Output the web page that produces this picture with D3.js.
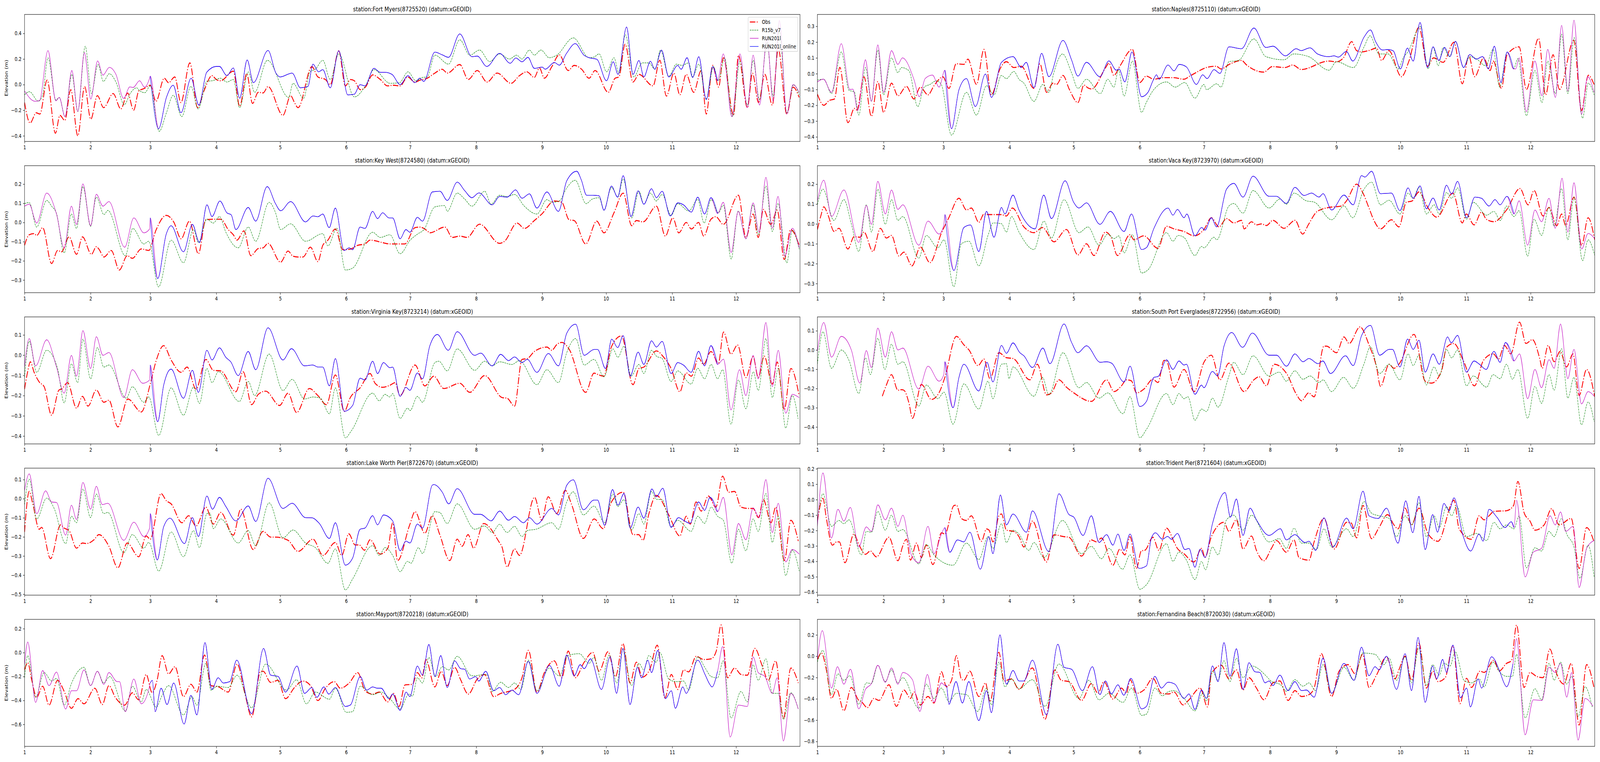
<!DOCTYPE html>
<html>
<head>
<meta charset="utf-8">
<script src="https://cdn.jsdelivr.net/npm/d3@7"></script>
<style>
html, body { margin: 0; padding: 0; background: #fff; overflow: hidden; }
svg { display: block; width: 100vw; height: 100vh; }
text { font-family: "DejaVu Sans", sans-serif; fill: #000; }
</style>
</head>
<body>
<svg id="chart" viewBox="0 0 5150 1950" preserveAspectRatio="none"></svg>
<script>
// day of year (0 = Jan 1) and water level (m)
// RUN201l (magenta) sits under RUN201l_online (blue) from Mar 1 to Nov 22,
// so only its Jan-Feb and late Nov-Dec parts are kept separately.

const stationTitles = [
    'station:Fort Myers(8725520) (datum:xGEOID)',
    'station:Naples(8725110) (datum:xGEOID)',
    'station:Key West(8724580) (datum:xGEOID)',
    'station:Vaca Key(8723970) (datum:xGEOID)',
    'station:Virginia Key(8723214) (datum:xGEOID)',
    'station:South Port Everglades(8722956) (datum:xGEOID)',
    'station:Lake Worth Pier(8722670) (datum:xGEOID)',
    'station:Trident Pier(8721604) (datum:xGEOID)',
    'station:Mayport(8720218) (datum:xGEOID)',
    'station:Fernandina Beach(8720030) (datum:xGEOID)'
];
const seriesNames = ['Obs', 'R15b_v7', 'RUN201l', 'RUN201l_online'];
const monthStarts = [0, 31, 59, 90, 120, 151, 181, 212, 243, 273, 304, 334];
const monthLabels = ['1', '2', '3', '4', '5', '6', '7', '8', '9', '10', '11', '12'];
const yLimits = [
    [-0.444, 0.548], [-0.429, 0.375], [-0.366, 0.296], [-0.346, 0.293], [-0.439, 0.189],
    [-0.488, 0.172], [-0.505, 0.16], [-0.619, 0.204], [-0.784, 0.278], [-0.846, 0.346]
];
const yTickSteps = [0.2, 0.1, 0.1, 0.1, 0.1, 0.1, 0.1, 0.1, 0.2, 0.2];

// ---- Fort Myers
const fortMyersObs = [[0,-.14],[2.6,-.30],[5.5,-.22],[7.2,-.23],[10.6,.035],[14.5,-.38],[16.6,-.24],[18.9,-.28],[21.7,-.04],[25,-.40],[28.2,-.015],[31.1,-.27],[34.2,-.086],[37.1,-.18],[41.6,-.07],[45.2,-.19],[48.4,-.066],[51.2,-.2],[53.6,-.05],[56.2,-.03],[59,-.005],[61.7,-.13],[65.6,.05],[67.6,.015],[70.5,.06],[73.4,-.14],[77.6,.17],[81.2,-.18],[84.2,-.05],[88,.07],[90,.04],[92,.03],[98,.105],[101,-.17],[104.3,.086],[107,-.147],[109.7,-.06],[112,-.065],[114.3,-.015],[121.3,-.24],[124.9,-.086],[126.7,-.14],[128.4,-.18],[134.9,.14],[137.7,.06],[141.2,.04],[143.5,0],[147.5,.264],[150.6,-.01],[153,.04],[154.8,.03],[157.6,-.04],[160,-.02],[163.4,.076],[167,.04],[170.4,-.01],[173,-.005],[176.3,-.01],[179.8,.06],[183.3,.02],[185.6,.035],[189,.05],[192.6,.09],[196,.12],[198.5,.09],[204.3,.157],[208.3,.04],[212.5,.11],[217.1,.02],[221.8,.09],[228.4,.01],[232.3,.07],[235.8,.10],[239.3,.056],[241.7,.13],[244,.05],[247.5,.14],[251,.233],[255.2,.11],[258,.15],[261.5,.12],[265,.05],[267.8,.11],[274,-.06],[277.2,.05],[279,.06],[281.9,.315],[285.6,.02],[288.4,.08],[295,-.01],[298.2,.19],[301.3,-.09],[304.8,.09],[307.6,-.08],[310.6,.08],[314.1,-.06],[317.6,.11],[320,-.23],[323,.15],[325.8,-.02],[328,.21],[332.8,-.24],[335.1,.23],[339.3,-.18],[341.7,.09],[344.5,-.14],[347.5,.08],[351,-.16],[353.8,.28],[357.8,-.23],[360.8,-.02],[363.6,-.10]];
const fortMyersR15b = [[0,-.08],[2.3,-.055],[6.5,-.13],[8.5,-.08],[11,.21],[14.7,-.12],[16.3,-.10],[19,-.25],[22.2,.08],[25,-.21],[28.5,.30],[31.4,-.07],[34.5,.157],[37,.025],[39.8,.085],[42.9,.02],[46.8,-.157],[49.7,-.066],[52.6,-.025],[54.2,-.05],[56.5,-.063],[59,-.01],[63.2,-.365],[66.6,-.22],[69.8,-.083],[73.8,-.25],[78.1,-.013],[81.5,-.19],[85.7,.027],[88,.03],[92,.05],[95,.02],[98,.04],[101,-.18],[105,.10],[108,-.06],[114,.19],[124,-.10],[126,.01],[131,-.107],[134,.10],[136.5,.12],[140,.19],[143.5,.04],[147.5,.24],[154.8,-.096],[160,-.01],[164,.117],[171.6,.01],[176,.015],[180,.10],[183.7,.03],[186.7,.056],[189,.06],[192.6,.23],[199,.16],[204.3,.35],[209,.23],[213.6,.27],[218.3,.18],[223,.24],[227.6,.20],[231,.23],[233.5,.20],[237,.27],[239.3,.23],[242.4,.27],[246.3,.21],[249.8,.23],[257.6,.365],[265,.21],[267.3,.215],[269.7,.24],[273.2,.10],[276.7,.21],[279,.09],[282,.39],[286,.06],[290,.17],[293,.17],[296,.12],[298.5,.27],[302.4,.066],[306,.16],[308.6,.15],[311.8,.17],[313.6,.06],[316.5,.16],[320,-.11],[323.4,.14],[325.7,.03],[328.6,.21],[332.3,-.25],[335.8,.18],[339.3,-.16],[342,.19],[345,-.12],[348.5,.33],[351.4,-.09],[354.3,.42],[357.8,-.22],[361,0],[363.6,-.08]];
const fortMyersRun = [[0,-.05],[4.9,-.13],[7,-.125],[11,.265],[14.7,-.127],[16.3,-.10],[19,-.25],[22.2,.11],[25,-.21],[28.1,.25],[31.1,-.113],[34.3,.185],[36.8,.074],[39.8,.135],[42.9,.08],[46.5,-.108],[49.4,-.018],[51,-.022],[54,.03],[56.3,-.02],[58.7,.05],
    [328,.24],[332,-.25],[335.8,.24],[339.3,-.18],[342,.23],[345,-.16],[348.5,.36],[351.4,-.13],[354.3,.50],[357.8,-.23],[360.7,0],[363.6,-.06]];
const fortMyersOnline = [[59,.066],[62.9,-.345],[66.6,-.10],[69.8,-.005],[73.4,-.22],[78.2,.05],[81.8,-.16],[85.5,.096],[90,.142],[91.5,.142],[95,.07],[98,.13],[101,-.107],[104.5,.193],[107.4,.015],[114.3,.267],[118,.09],[120,.06],[125.6,.09],[129.5,-.025],[133,-.015],[135.4,.16],[138,.10],[140,.117],[143.5,-.025],[147.5,.264],[151.7,-.08],[154.8,-.075],[157.5,0],[159.8,-.01],[164,.127],[167,.096],[169.2,.096],[172.5,.08],[176.3,0],[180,.07],[183.2,.015],[185.5,.05],[187.4,.025],[192.6,.254],[196,.233],[199,.213],[204.3,.396],[210,.218],[212.5,.223],[217,.142],[223,.244],[228,.167],[230.6,.208],[233.5,.178],[236.3,.213],[239.3,.127],[243,.137],[244.4,.12],[248.7,.173],[251,.152],[254.4,.244],[258.5,.32],[262.6,.23],[265,.21],[268.6,.198],[273.2,.03],[276.3,.178],[278.6,.08],[282.6,.45],[285.6,.08],[288.4,.188],[290.7,.06],[293.8,.183],[295.8,.12],[299,.27],[302.4,.06],[306.6,.15],[308.2,.12],[311,.21],[313.6,.056],[316.5,.218],[320,-.117],[323,.14],[325.3,.03]];

// ---- Naples
const naplesObs = [[0,-.13],[3,-.20],[5.5,-.17],[8,-.16],[10.5,.04],[14.3,-.31],[17.3,-.22],[18.5,-.23],[21.8,-.02],[25.3,-.27],[28.3,-.05],[31,-.245],[34.7,-.06],[37.7,-.14],[41.7,-.08],[45.2,-.16],[48.2,-.085],[51.8,-.134],[54.6,-.076],[58.8,-.02],[61.6,-.093],[65,.063],[68.6,.059],[70.5,.092],[74.5,-.068],[78,.154],[81.5,-.134],[85.5,.03],[88.5,.076],[92,.039],[95.5,.047],[101.4,-.093],[104.2,.063],[107.3,-.118],[110.3,-.06],[112,-.068],[115,-.011],[118,-.10],[122,-.183],[124.8,-.072],[126.7,-.09],[128.4,-.097],[135,.039],[136.5,.067],[138.8,-.011],[141.6,.047],[147.5,.154],[151,-.056],[154,-.015],[157.5,-.035],[162,-.025],[167,-.025],[171.5,-.035],[175,-.01],[183.4,.043],[186.8,.047],[189,.03],[193,.06],[198.6,.084],[201,.055],[209,.01],[213,.045],[219,.039],[222.5,.055],[226.7,.026],[232,.047],[234.5,.063],[239.6,.08],[243,.075],[246.3,.10],[250.2,.203],[252.5,.146],[255,.138],[258.3,.147],[261.8,.162],[264.2,.084],[267.6,.146],[273.5,-.019],[277,.08],[281.7,.294],[285.7,.047],[288.5,.10],[293,.072],[298.1,.199],[302,-.064],[305,.113],[307.8,-.019],[312,.10],[315,.02],[316.5,.08],[320.3,-.093],[323,.121],[328.6,.17],[332,-.10],[337.7,.224],[341,-.134],[344.5,.12],[347.5,-.10],[354.2,.211],[357.8,-.233],[361,-.01],[363.7,-.068]];
const naplesR15b = [[0,-.04],[3,-.035],[6.6,-.126],[11.2,.137],[14.8,-.105],[17.3,-.115],[19.4,-.262],[22.5,.039],[25.3,-.175],[28.3,.15],[31,-.134],[34.7,.10],[37.7,.006],[39.3,.039],[42.8,.02],[47,-.208],[50,-.085],[52.7,-.068],[55.7,-.045],[58,-.068],[62.8,-.389],[69.8,-.118],[74.5,-.262],[79.2,-.076],[82.7,-.134],[86.2,-.011],[88.5,-.031],[92,.014],[94.4,-.035],[96.7,-.06],[101.4,-.175],[105.6,-.068],[108.4,-.118],[110.7,.006],[114.8,.125],[119,.006],[122,-.093],[126,-.035],[132.5,-.126],[136,-.035],[138.8,-.085],[141,.022],[143.6,-.142],[147.5,.08],[151.8,-.245],[154,-.183],[157.5,-.101],[163.5,-.052],[167.5,-.085],[172,-.056],[176.8,-.155],[181,-.068],[182.2,-.101],[187,-.064],[189,-.085],[192.7,.076],[197.2,.084],[204.4,.22],[210,.108],[218.5,.088],[223,.125],[230,.108],[239.6,.022],[243,.076],[251,.039],[256,.17],[258.8,.24],[263,.125],[267.3,.125],[272,.03],[274.3,.10],[276.6,.14],[282.4,.298],[286,.03],[288.3,.17],[290.7,.05],[293,.166],[296,.108],[298.8,.203],[302.6,.039],[305.5,.108],[308.5,.095],[313,.05],[316.4,.154],[319.5,-.085],[323,.137],[326,.03],[328,.095],[332,-.266],[336,.02],[339.3,-.183],[342,.08],[345.6,-.126],[348.5,.25],[351.4,-.126],[354.4,.228],[358.3,-.282],[361,-.06],[363.7,-.134]];
const naplesRun = [[0,-.052],[2.8,-.034],[6.6,-.118],[11.2,.19],[15.2,-.10],[16.6,-.098],[18.9,-.233],[22.5,.088],[25.3,-.175],[28.3,.182],[31,-.118],[34.7,.146],[37.7,.059],[39.8,.10],[45.3,-.04],[47.7,-.146],[50.5,-.03],[53.9,-.009],[57,-.085],
    [327,.03],[328.6,.10],[332,-.24],[336,.08],[339.3,-.14],[342,.154],[345.6,-.15],[348.5,.306],[351.4,-.11],[354.3,.339],[357.8,-.257],[360.7,-.019],[363.7,-.118]];
const naplesOnline = [[59.7,.022],[62.8,-.348],[66.3,-.101],[69.8,-.031],[74,-.208],[78.7,-.002],[81.5,-.15],[86.2,.072],[91.6,.108],[95.5,.039],[97.8,.072],[101.4,-.089],[105,.129],[108.4,-.019],[115,.211],[119,.088],[122,-.015],[126,.072],[132.3,-.019],[136.5,.081],[140,.022],[141.2,.03],[144,-.052],[147.3,.137],[151.8,-.146],[154.8,-.118],[157.2,-.043],[158.8,-.007],[160,-.035],[164.2,.055],[167,.018],[169.4,.059],[172.8,.043],[177.5,-.068],[180.4,-.007],[182.5,-.031],[185.7,.026],[188.5,.002],[192.7,.17],[198.6,.158],[204.4,.289],[210,.166],[213.3,.174],[219.2,.113],[224.2,.158],[226.5,.146],[230.7,.164],[234.2,.125],[239.6,.108],[242,.113],[244,.105],[247.7,.141],[250.7,.08],[256,.232],[259,.277],[261.4,.203],[264.6,.15],[267.3,.153],[269.6,.145],[273,.03],[276.3,.162],[279,.08],[282.2,.324],[285.7,.039],[288.3,.17],[291,.084],[293.7,.166],[296.2,.108],[298.8,.205],[302.6,.039],[305.5,.121],[308.5,.092],[311.5,.108],[314.2,.03],[317,.174],[320.1,-.056],[323,.137],[326,.03]];

// ---- Key West
const keyWestObs = [[0,-.119],[2.2,-.064],[4.5,-.058],[5.7,-.068],[8.5,-.027],[12.7,-.214],[15.5,-.146],[17.4,-.153],[20.9,-.075],[24.4,-.166],[27.2,-.075],[31.4,-.166],[33.7,-.126],[34.9,-.139],[37.3,-.18],[40.7,-.146],[44.5,-.248],[48.2,-.173],[50.6,-.187],[54.8,-.138],[58.3,-.146],[61.7,-.04],[66.5,.037],[70,.003],[73.5,-.085],[77.4,.007],[81.6,-.163],[85.1,.014],[88.6,.017],[92.2,.017],[95.6,-.037],[98,-.064],[99.7,-.092],[103,-.044],[106.2,-.173],[109.7,-.136],[112,-.132],[114.3,-.109],[120.2,-.207],[123.7,-.149],[126,-.176],[128.4,-.18],[130.7,-.18],[134.2,-.129],[137.7,-.204],[140,-.119],[142.4,-.092],[145.9,-.034],[149.4,-.142],[152.9,-.139],[156.4,-.119],[159.8,-.112],[162.2,-.092],[164.5,-.095],[168,-.105],[171.5,-.112],[175.1,-.112],[178.5,-.112],[183.3,-.027],[185.6,-.024],[189.1,-.044],[190.2,-.054],[197.3,-.024],[200.8,-.078],[204.3,-.071],[207.7,-.078],[213.6,-.009],[223,-.109],[225.3,-.098],[231.2,-.003],[234.6,-.031],[239.3,.01],[242.8,.044],[248.7,.112],[252.2,.105],[255.6,.014],[258,.01],[263.4,-.112],[268.6,.007],[272,-.054],[276.7,.051],[281,.153],[285,-.017],[287.2,.01],[290.3,.003],[296.6,.085],[300.8,-.071],[304.3,.024],[307.1,-.054],[310.6,0],[313,-.034],[316.4,0],[318.8,-.071],[322.2,.017],[324.5,.03],[328,-.01],[335.1,.142],[338.6,-.078],[342,.044],[344.4,-.078],[346.8,.068],[350.3,-.01],[353.3,.064],[356.6,-.193],[359.6,-.037],[363.6,-.119]];
const keyWestR15b = [[0,.098],[2.2,.104],[5.7,-.024],[10.4,.115],[12.7,.085],[15,.047],[18.6,-.159],[22,.044],[24.4,-.031],[27.4,.187],[31,-.02],[33.7,.132],[37.3,.041],[39.1,.063],[47.3,-.173],[50.8,-.031],[56,-.112],[58.3,-.098],[62.9,-.336],[68.8,-.092],[74.6,-.21],[79.3,-.037],[81.6,-.105],[85.6,.017],[88.6,-.003],[91.5,.031],[94.5,-.051],[100.3,-.132],[105,-.024],[108.5,-.098],[114.8,.105],[117.8,.051],[120.2,-.037],[124.9,-.007],[131.9,-.098],[140,-.058],[142.4,-.122],[146.6,-.03],[150.6,-.248],[154,-.238],[163.4,-.051],[167,-.078],[171.5,-.064],[176.3,-.163],[181,-.092],[184.4,-.061],[187.5,-.037],[192.6,.081],[197.2,.088],[198.4,.058],[203.1,.153],[206.6,.122],[210,.085],[216,.163],[219,.095],[223,.142],[226.5,.135],[230,.146],[234.6,.085],[240.5,.044],[245.2,.119],[247.5,.105],[251,.112],[254.5,.18],[258.5,.22],[263.6,.098],[266.5,.122],[269.7,.129],[272,.064],[275.5,.183],[278.5,.132],[281,.227],[285,.024],[288.4,.163],[290.7,.095],[293.8,.153],[296.5,.112],[299.3,.146],[303.5,.037],[306.6,.098],[311.8,.06],[316,.12],[319,-.003],[322.3,.119],[325.7,.05],[328,.09],[331.7,-.19],[335,.06],[338.6,-.085],[342,.092],[344.4,-.064],[348,.19],[351,-.047],[353.7,.10],[357.8,-.21],[360.4,-.04],[363.6,-.139]];
const keyWestRun = [[0,.085],[2.2,.095],[5.7,-.003],[10.4,.153],[15,.044],[18.6,-.132],[22,.085],[24.4,-.01],[27.4,.201],[31,-.017],[33.7,.147],[36.8,.085],[39.6,.109],[47,-.129],[51.3,.024],[56,-.054],[58.7,-.034],
    [328,.105],[331.7,-.156],[335,.058],[338.6,-.085],[342,.102],[344.8,-.051],[348,.235],[351,-.03],[353.7,.136],[356.8,-.176],[360.4,-.03],[363.6,-.132]];
const keyWestOnline = [[59,.024],[62.5,-.292],[66.5,-.061],[68.8,-.017],[74.6,-.153],[78.8,-.01],[82.1,-.105],[85.6,.092],[88,.031],[91.7,.112],[95,.05],[97,.04],[99.2,-.037],[105,.078],[108.5,.007],[113.9,.187],[117.8,.098],[120.2,.061],[124.9,.109],[131.9,.003],[135.4,.034],[137.7,.03],[140,.044],[143,-.027],[145.9,.075],[150,-.146],[152.4,-.132],[154,-.142],[157.5,-.024],[159.8,-.031],[163.4,.058],[165.7,.02],[168.1,.051],[171,.024],[172.8,.024],[176.3,-.085],[179,-.037],[180.9,-.051],[184.4,.027],[186.8,.007],[191.4,.159],[195,.163],[198.4,.115],[203.1,.21],[206.6,.166],[210,.129],[213.3,.154],[219.5,.092],[223,.136],[226.5,.132],[230.5,.17],[233.5,.126],[237,.149],[240.5,.075],[245.2,.159],[250.6,.058],[254.5,.217],[259.2,.267],[261.4,.22],[263.8,.142],[266.8,.142],[269.7,.139],[272,.064],[275.5,.19],[278.4,.132],[281,.244],[284.7,.031],[288,.165],[290.7,.095],[294.3,.176],[296.6,.129],[299.3,.163],[303.1,.034],[306.6,.102],[309.3,.092],[313,.054],[316,.132],[319.2,.044],[322.2,.129],[325.3,.047]];

// ---- Vaca Key
const vacaKeyObs = [[0,-.028],[1.6,.04],[3,.086],[5,.044],[7.8,-.038],[10.1,-.022],[14.3,-.126],[17.2,-.064],[19.9,-.067],[21.8,-.041],[26,-.139],[29.5,-.022],[32.3,-.071],[34.7,-.058],[38.2,-.162],[40.5,-.142],[44.3,-.211],[48.2,-.116],[52.7,-.195],[58,-.048],[61.5,.03],[66.3,.129],[69.8,.07],[72.1,.08],[75.6,.008],[78,.05],[79.9,.047],[86,.047],[88.5,.04],[91.3,.08],[96.7,-.015],[101.4,-.044],[105.4,-.018],[110.8,-.09],[116.6,-.028],[122,-.156],[126,-.10],[129.5,-.159],[134.9,-.041],[137.5,-.067],[140.5,-.159],[146.4,-.054],[148.2,-.08],[152.8,-.06],[159.5,-.123],[163.5,-.012],[167,-.025],[171.7,-.038],[176.4,-.06],[181,-.028],[184.5,.031],[188,-.015],[191.6,.027],[195,.005],[198.6,.018],[199.8,-.025],[203.3,.011],[205.6,-.005],[208,0],[210.3,-.008],[213.3,.018],[218.5,-.022],[223.7,.018],[227.2,-.051],[230,-.002],[233.7,.06],[236,.073],[239.6,.083],[245.4,.09],[247.7,.115],[252.5,.20],[255.5,.155],[258.3,.08],[260.6,.018],[263.7,-.025],[268.8,.021],[272.3,-.015],[275.8,.109],[278.4,.115],[281.7,.161],[286,.08],[290,.034],[297.6,.155],[302,.005],[303.9,.05],[307.5,-.005],[311,.06],[313.2,.024],[316.8,.011],[322.7,.07],[329,.178],[332.8,.096],[335.6,.168],[339.8,.04],[342.6,.083],[346.2,-.009],[348.5,.05],[350.4,-.008],[354.3,.135],[357.9,-.107],[360.9,.031],[364,-.08]];
const vacaKeyR15b = [[0,.096],[2.6,.175],[7.7,.018],[12.4,.122],[15.9,0],[19.4,-.139],[22.9,.096],[25.3,-.041],[28.3,.175],[31.8,-.002],[34.7,.122],[37.7,.018],[40,.037],[47.5,-.172],[51,-.058],[56.4,-.12],[59.3,-.08],[63.9,-.316],[67.4,-.10],[71,-.087],[75.6,-.211],[80,-.054],[82.3,.005],[86.2,.001],[88.5,-.041],[90.9,.037],[94.4,-.041],[101.4,-.129],[106.1,.014],[109.6,-.071],[115.5,.122],[122.5,-.044],[126.7,-.015],[131.9,-.107],[136,-.051],[138.9,-.074],[141.2,-.06],[143.6,-.146],[147.5,-.054],[151.8,-.247],[154.8,-.231],[163.5,-.044],[166.5,-.087],[168.9,-.058],[171.7,-.068],[176.8,-.159],[179.9,-.113],[181,-.12],[185.7,-.067],[187,-.08],[192.7,.09],[195,.103],[199.3,.054],[204,.168],[211.5,.08],[216.6,.125],[219.6,.099],[223.2,.155],[229,.116],[232.6,.11],[240.8,.021],[246.6,.09],[250.7,.031],[256,.175],[259.5,.21],[263.7,.096],[267.7,.119],[272.8,.05],[276.6,.155],[278.9,.129],[281.7,.184],[285.2,.05],[288.8,.096],[291.2,.05],[294.6,.158],[297,.129],[299.8,.181],[304,.024],[307.1,.109],[313.4,.044],[316.8,.063],[319.8,.017],[322.7,.09],[326.2,.037],[328.6,.067],[332.6,-.162],[335.6,.024],[339.1,-.058],[342.6,.083],[345,-.012],[348.5,.178],[351.4,-.08],[354.3,.135],[358.3,-.185],[360.9,-.08],[364,-.159]];
const vacaKeyRun = [[0,.116],[3,.22],[6.6,.037],[12.4,.171],[19.4,-.093],[22.9,.093],[25.3,-.002],[28.3,.214],[31.8,.05],[34.7,.171],[37.7,.073],[40,.096],[47.5,-.107],[51.8,.014],[57,-.051],[59.2,-.005],
    [328.6,.116],[332.6,-.107],[336,.07],[339.1,.011],[342.6,.129],[345.5,-.022],[348.7,.23],[351.4,-.041],[354.3,.207],[357.9,-.126],[360.9,-.048],[364,-.074]];
const vacaKeyOnline = [[59.7,.047],[63.9,-.234],[68.6,-.018],[71.7,-.005],[75.6,-.139],[79.2,.063],[82.7,-.067],[86.2,.083],[87.8,.05],[91.6,.145],[94.4,.07],[101.9,-.025],[106,.145],[109.6,.027],[116,.217],[120,.109],[122.5,.08],[126,.106],[132.3,-.002],[137.2,.063],[143.6,-.038],[147.1,.05],[151.8,-.129],[154.1,-.119],[157.6,-.022],[164.2,.08],[166.5,.044],[168.6,.073],[171.7,.031],[173,.05],[176.8,-.06],[179.9,-.018],[181.5,-.031],[184.5,.031],[186.9,-.015],[191.6,.175],[195,.204],[199.3,.135],[204,.24],[211.5,.139],[215,.139],[219.6,.103],[223.6,.184],[227.9,.143],[231.4,.155],[234.9,.135],[236.8,.152],[240.8,.07],[246.6,.145],[250.9,.096],[254.8,.243],[256.4,.236],[259.5,.265],[263.7,.152],[268.8,.155],[272.8,.067],[276.6,.181],[279,.129],[282.2,.191],[285.2,.076],[288.3,.13],[291.2,.07],[294.6,.195],[297,.15],[299.8,.214],[304,.031],[307.9,.135],[311,.129],[314.5,.09],[317.3,.122],[319.7,.096],[322.9,.139],[326.2,.05]];

// ---- Virginia Key
const virginiaKeyObs = [[0,-.168],[1.5,-.08],[2.7,-.033],[4.5,-.085],[6.9,-.133],[9.2,-.156],[12.7,-.297],[16.2,-.172],[17.4,-.168],[20.2,-.136],[24.4,-.262],[27.2,-.204],[29.8,-.252],[33.7,-.172],[37.2,-.233],[39.6,-.223],[43.8,-.355],[48.5,-.217],[54.8,-.281],[59,-.143],[61.8,-.027],[65.3,.047],[68.8,-.024],[73.5,-.085],[76.3,-.059],[80.5,-.168],[85.1,-.021],[88.6,-.075],[92.1,-.078],[99.2,-.181],[102.6,-.082],[106.6,-.245],[109.7,-.194],[113.2,-.178],[119.7,-.249],[123.7,-.188],[127.7,-.284],[133.7,-.165],[137.7,-.2],[141.7,-.245],[145.9,-.098],[150.1,-.278],[152.9,-.21],[157.5,-.162],[162.2,-.091],[164.6,-.14],[168,-.159],[171.5,-.149],[174,-.136],[176.2,-.2],[183.3,-.049],[187.9,-.152],[192.1,-.104],[196.8,-.165],[204.3,-.139],[209,-.184],[216,-.101],[224.2,-.21],[226.5,-.213],[230,-.252],[233.5,-.021],[236,-.017],[239.3,.018],[245.2,.04],[247.5,.024],[249.9,.053],[252.2,.063],[255.6,.03],[263.4,-.184],[267.3,-.089],[269.6,-.098],[271.8,-.104],[275.6,.044],[280.2,.095],[285.6,-.146],[288.4,-.066],[290.7,-.059],[296.6,.021],[300,-.01],[303.5,-.066],[307.6,-.181],[310.6,-.088],[313,-.104],[316.4,-.014],[318.7,-.046],[322.2,.018],[325.7,-.04],[328.1,.114],[331.6,.005],[334.7,.05],[338.6,-.111],[342,-.008],[344.4,-.111],[347.2,-.005],[351,-.143],[353.3,-.034],[356.6,-.271],[359.7,-.066],[363.6,-.20]];
const virginiaKeyR15b = [[0,-.111],[2.2,.069],[5.7,-.085],[10.4,.024],[15.5,-.066],[18.6,-.236],[22,-.043],[24.9,-.136],[27.4,.079],[31,-.117],[34.2,.037],[37.2,-.059],[39.6,-.049],[47.8,-.213],[50.6,-.156],[56,-.233],[58.3,-.207],[63,-.397],[68.8,-.162],[74.6,-.297],[79.3,-.159],[82.1,-.239],[85.6,-.066],[88,-.136],[91,-.082],[100.8,-.229],[105,-.13],[108,-.2],[114.8,.005],[121.3,-.175],[125.6,-.12],[131.4,-.217],[135.4,-.207],[138.9,-.213],[143.1,-.29],[145.9,-.162],[150.6,-.409],[153.4,-.374],[163.4,-.188],[166.5,-.226],[169.2,-.194],[171.5,-.207],[172.8,-.19],[176.3,-.313],[179.8,-.262],[181,-.274],[184.4,-.204],[186.8,-.233],[192.6,-.037],[194.5,-.03],[198.4,-.078],[203.1,.031],[211.3,-.075],[216,-.03],[219.5,-.053],[223,-.033],[228.8,-.046],[232.3,-.027],[240.5,-.146],[245.2,-.072],[250.6,-.136],[254.5,.012],[258.7,.082],[262.7,-.049],[267.3,-.021],[272,-.107],[276.2,.031],[278.5,-.011],[281.4,.044],[284.7,-.104],[288.4,-.046],[290.7,-.091],[294.3,.024],[296.6,-.005],[299.3,-.017],[303.5,-.13],[306.6,-.078],[312.9,-.143],[316,-.065],[319.2,-.117],[322.3,-.046],[325.3,-.117],[327.7,-.072],[331.6,-.342],[335.1,-.123],[338.6,-.265],[342.1,-.082],[344.4,-.175],[348,.082],[351,-.21],[353.8,-.065],[357.3,-.361],[360.4,-.2],[363.1,-.315]];
const virginiaKeyRun = [[0,-.059],[2.2,.082],[5.2,-.053],[10.4,.076],[15,-.059],[18.6,-.188],[22,-.001],[24.4,-.104],[27.4,.121],[31,-.066],[33.7,.091],[36.8,-.001],[39.6,.013],[46.6,-.21],[50.6,-.072],[55.5,-.139],[58.7,-.123],
    [328.1,-.02],[331.6,-.271],[335.6,-.072],[338.6,-.2],[342,-.001],[344.4,-.117],[348,.161],[351,-.156],[353.8,.024],[357.3,-.287],[360.4,-.194],[363.6,-.21]];
const virginiaKeyOnline = [[59,-.049],[62.5,-.329],[65.3,-.149],[68.8,-.069],[74.6,-.213],[78.8,-.075],[81.6,-.184],[85.6,.024],[88,-.024],[91.5,.036],[94.5,-.011],[96.8,-.033],[100.3,-.101],[105,.018],[108.5,-.072],[114.3,.135],[121.3,-.024],[125.3,.032],[131.4,-.053],[135.4,-.049],[137.7,-.059],[140,-.059],[143.1,-.152],[145.9,-.017],[150.1,-.278],[154,-.249],[157.5,-.114],[159.8,-.123],[163.4,-.03],[165.7,-.091],[168.5,-.037],[171.5,-.062],[172.8,-.059],[176.3,-.204],[179,-.159],[180.9,-.174],[184.4,-.088],[186.8,-.117],[190.2,.045],[193.8,.102],[198.9,.024],[203.1,.116],[211.3,-.001],[214.1,.01],[219.5,-.053],[223.5,.004],[227.2,-.027],[230,-.009],[233.5,-.037],[236,-.021],[240.5,-.085],[245.9,.008],[250.6,-.053],[254.5,.108],[258.7,.153],[262.7,-.001],[267.3,.028],[269,.028],[272.7,-.066],[275.6,.079],[278.4,.037],[281,.096],[284.3,-.104],[288,.015],[290.7,-.046],[294.3,.071],[296.6,.04],[299.3,.068],[303.5,-.091],[306.6,-.037],[309.4,-.05],[312.9,-.085],[316.4,.019],[319.2,-.053],[322.2,.047],[325.3,-.046]];

// ---- South Port Everglades
const southPortObs = [[30.4,-.24],[32.3,-.182],[34.7,-.128],[37.7,-.209],[39.4,-.206],[40.5,-.209],[42.9,-.277],[44.5,-.355],[48.7,-.179],[53.4,-.257],[56.9,-.223],[59.7,-.142],[65.1,.071],[68.6,.027],[71,0],[75.2,-.081],[78,-.047],[80.8,-.149],[85,-.014],[88.5,-.04],[91.6,-.044],[99.5,-.155],[103,-.074],[107.3,-.233],[109.6,-.223],[113.1,-.155],[116.6,-.193],[120.1,-.223],[128.3,-.267],[135.4,-.155],[138.9,-.216],[142.4,-.186],[144.7,-.155],[147,-.16],[149.4,-.223],[152.9,-.203],[157.1,-.152],[159.5,-.169],[162.3,-.054],[163.5,-.057],[167,-.193],[171.7,-.101],[176.4,-.216],[181,-.064],[184.5,-.027],[188.5,-.155],[192.7,-.068],[199.8,-.216],[204.4,-.155],[206.8,-.139],[210.3,-.186],[213.8,-.074],[219.7,-.122],[224.3,-.23],[226.7,-.264],[230,-.223],[232.6,-.243],[237.2,.02],[238.4,.02],[243.1,-.014],[246.6,.068],[249,.034],[254.1,.12],[258.3,.027],[261.8,-.088],[263.7,-.189],[267.7,-.074],[270,-.095],[272.3,-.074],[279.4,.081],[284.6,-.162],[287.6,-.172],[292.3,-.108],[294.6,.014],[298,.034],[302.7,-.061],[307.7,-.186],[311.9,-.054],[316.5,-.02],[318.9,-.047],[321.7,.024],[324.7,-.02],[328.8,.145],[331.8,.034],[334.8,.054],[338.3,-.047],[339.4,-.095],[342.2,.024],[345,-.061],[347.8,-.007],[350.8,-.088],[353.8,-.02],[356.7,-.236],[360.2,-.101],[364,-.243]];
const southPortR15b = [[0,-.074],[2.6,.095],[6.6,-.095],[11.2,0],[14.8,-.054],[19.4,-.226],[22.5,-.041],[24.8,-.128],[28.3,.061],[31.6,-.101],[34.7,.03],[37.7,-.074],[40,-.061],[47.5,-.291],[51,-.182],[56.4,-.253],[59.3,-.219],[63.5,-.385],[68.6,-.176],[75.6,-.307],[79.9,-.162],[82.2,-.253],[86.2,-.074],[88.5,-.071],[89.7,-.149],[91.6,-.088],[101.4,-.24],[105.4,-.142],[108.4,-.233],[115,-.014],[122.5,-.196],[126,-.169],[131.9,-.25],[136,-.223],[143.1,-.331],[146.4,-.243],[151,-.456],[154.1,-.412],[163.5,-.226],[166.5,-.284],[169.3,-.226],[171.7,-.253],[173.5,-.243],[176.8,-.365],[179.9,-.307],[182.2,-.32],[185,-.25],[187.6,-.297],[192.7,-.135],[195,-.064],[199.3,-.128],[204,-.03],[211.5,-.135],[216.3,-.115],[219.6,-.162],[223.6,-.108],[227.4,-.152],[230.7,-.135],[234.9,-.169],[236.8,-.155],[240.8,-.216],[246.4,-.142],[250.9,-.199],[255.9,-.074],[259,.017],[263.3,-.122],[267.7,-.074],[272.8,-.155],[276.6,-.02],[279,-.081],[281.7,-.027],[285.2,-.182],[288.8,-.088],[291.2,-.135],[294.6,.003],[297,-.041],[299.8,0],[304,-.186],[307.1,-.135],[313.4,-.193],[316.4,-.128],[319.7,-.149],[322.7,-.074],[325.5,-.152],[328,-.101],[332.6,-.355],[336,-.189],[339.1,-.277],[342.6,-.128],[345,-.209],[348.5,.007],[351.4,-.25],[354.3,-.142],[357.8,-.389],[360.9,-.27],[363.7,-.372]];
const southPortRun = [[0,-.007],[3,.143],[6.6,-.037],[11.2,.071],[15.9,0],[19.9,-.172],[22.9,-.003],[25.3,-.091],[28.3,.114],[31.8,-.037],[34.7,.095],[37.7,0],[40,.01],[47.5,-.203],[51.8,-.084],[57,-.162],[59.2,-.128],
    [328.8,-.02],[332.6,-.253],[336,-.101],[339.1,-.196],[342.6,-.05],[345,-.095],[348,.135],[351.4,-.149],[354.3,.003],[357.8,-.28],[360.9,-.216],[363.7,-.24]];
const southPortOnline = [[59.7,-.061],[63.5,-.30],[66.3,-.142],[68.6,-.074],[75.6,-.213],[79.4,-.064],[82.2,-.166],[86.2,.024],[88.5,-.017],[91.6,.037],[94.8,-.014],[96.7,-.03],[100.7,-.091],[105.6,.01],[108.9,-.071],[115.5,.135],[119,.04],[122,-.014],[126,.022],[132.5,-.064],[135.4,-.061],[137.7,-.068],[143.6,-.166],[146.4,-.084],[151,-.294],[154.1,-.267],[157.6,-.142],[159.5,-.138],[163.5,-.051],[166.5,-.101],[169.3,-.057],[171.7,-.078],[172.8,-.074],[176.8,-.23],[179.9,-.182],[181,-.196],[185,-.111],[187.4,-.135],[190.4,.02],[194,.091],[199.1,.014],[203.7,.088],[211.5,-.027],[215,-.027],[219.7,-.084],[223.6,-.02],[227.4,-.061],[230.2,-.044],[234.4,-.071],[236.7,-.057],[240.3,-.122],[247.3,-.03],[250.9,-.081],[254.8,.074],[259,.128],[263.3,-.027],[267.7,.003],[269.3,.003],[272.8,-.088],[276.4,.057],[279,.003],[281.7,.051],[284.6,-.115],[288.3,-.02],[291.2,-.074],[295.1,.068],[296.8,.037],[299.8,.076],[303.9,-.115],[307.5,-.057],[310,-.074],[313.2,-.101],[316.8,-.007],[319.7,-.064],[322.2,.039],[326.2,-.057]];

// ---- Lake Worth Pier
const lakeWorthObs = [[0,-.174],[2.2,.038],[3.8,-.024],[6.9,-.16],[8,-.15],[12.2,-.314],[16.9,-.137],[18.6,-.154],[20.9,-.167],[24.4,-.259],[27.2,-.232],[29,-.235],[32.6,-.215],[34.9,-.188],[39.6,-.249],[43.8,-.362],[48.2,-.232],[53.6,-.304],[57.1,-.195],[59,-.212],[64.1,.027],[66.5,-.01],[68.8,-.027],[73.9,-.126],[77,-.089],[80.5,-.143],[85.1,-.044],[88.6,-.133],[92.1,-.072],[98,-.191],[101.5,-.055],[107.3,-.266],[112,-.171],[115.5,-.201],[117.8,-.201],[123.7,-.218],[128.4,-.276],[135.4,-.212],[140.1,-.297],[145.9,-.229],[148.9,-.297],[152.2,-.184],[155.2,-.242],[157.1,-.242],[159.5,-.27],[162.2,-.215],[166.9,-.29],[170.5,-.26],[172.8,-.126],[175.1,-.324],[180.8,-.137],[183.3,-.068],[187.9,-.181],[191.4,-.089],[194.9,-.188],[199.6,-.324],[203.1,-.212],[205.4,-.249],[208.2,-.188],[210.8,-.259],[215.5,-.13],[222.9,-.229],[224,-.249],[226.5,-.358],[230,-.263],[232.3,-.297],[239.4,.007],[242.8,-.113],[245.8,.01],[249.8,-.078],[253.8,.044],[256.8,-.031],[262.3,-.208],[267.4,-.106],[271.6,-.157],[275.5,-.017],[281,.034],[285.6,-.188],[288.3,-.188],[290.3,-.218],[293,-.082],[296.6,.017],[302.4,-.085],[307.6,-.195],[310.6,-.092],[312.5,-.133],[315.2,-.017],[317.6,-.065],[321,.014],[324.5,-.044],[327.7,.118],[330.5,.034],[333.3,.038],[336.3,-.044],[339.8,-.051],[342,-.051],[344.5,-.099],[346.8,-.005],[350.4,-.126],[352.6,-.044],[356.7,-.324],[359.7,-.113],[363.2,-.222]];
const lakeWorthR15b = [[0,-.031],[2.2,.102],[5.7,-.106],[10.4,.003],[13.9,-.051],[19.3,-.235],[22,-.092],[24.4,-.126],[27.4,.051],[31,-.099],[33.7,.024],[37.2,-.078],[39.1,-.072],[46.6,-.283],[50.6,-.188],[56,-.259],[58.3,-.229],[63,-.379],[68.8,-.174],[74.6,-.304],[79.3,-.167],[82.1,-.256],[85.6,-.078],[87,-.075],[88.6,-.157],[92.1,-.106],[100.3,-.232],[105,-.167],[108.5,-.246],[114.8,-.022],[121.3,-.205],[126,-.164],[131.9,-.232],[136.5,-.256],[142.4,-.338],[145.9,-.263],[150.6,-.478],[154,-.42],[163.4,-.246],[166.5,-.297],[169.2,-.256],[172.8,-.297],[176.3,-.382],[179.8,-.328],[181.4,-.338],[184.9,-.256],[186.8,-.287],[192.6,-.068],[194.9,-.072],[198.4,-.13],[203.1,-.027],[211.3,-.16],[216,-.143],[219.5,-.177],[223,-.134],[226.5,-.177],[230,-.145],[233.5,-.198],[236,-.167],[240,-.16],[247.5,-.126],[250.6,-.16],[254.5,-.017],[257.6,.036],[262.3,-.085],[267.3,-.039],[272.3,-.126],[276.2,.024],[278.4,-.041],[281.4,-.005],[284.9,-.164],[288.4,-.078],[290.7,-.133],[294.3,.038],[296.6,-.003],[299.3,-.005],[303.5,-.147],[306.6,-.113],[312.9,-.171],[316,-.092],[319.2,-.129],[322.3,-.044],[325.3,-.092],[328,-.113],[332,-.338],[335.1,-.16],[338.6,-.273],[342,-.106],[344.4,-.171],[348,.027],[351,-.229],[353.8,-.092],[357.3,-.403],[360.4,-.269],[363.6,-.379]];
const lakeWorthRun = [[0,.044],[2.2,.13],[5.7,-.078],[9.9,.041],[12.7,-.017],[15,-.02],[19.3,-.191],[22,-.034],[24.4,-.109],[27.4,.085],[31,-.055],[33.7,.065],[36.5,-.031],[39.1,-.024],[46.6,-.218],[51.3,-.123],[56,-.198],[58.7,-.154],
    [328,.007],[332,-.294],[335.1,-.13],[338.6,-.215],[342,-.048],[344.8,-.099],[348,.10],[351,-.177],[353.8,-.024],[357.3,-.331],[360.4,-.266],[363.6,-.29]];
const lakeWorthOnline = [[59,-.078],[62.3,-.321],[65.3,-.147],[68.3,-.102],[75.1,-.235],[78.8,-.099],[81.6,-.198],[85.6,.014],[88.2,-.055],[91.5,.007],[94.5,-.041],[99.2,-.116],[105,-.038],[108.5,-.119],[114.3,.107],[121.3,-.051],[125.6,-.024],[131.9,-.099],[134.9,-.1],[138.4,-.13],[143.1,-.208],[145.9,-.126],[150.6,-.348],[154,-.311],[157.5,-.16],[159.8,-.154],[163.4,-.089],[165.7,-.137],[168.5,-.085],[172.8,-.116],[176.3,-.273],[179,-.222],[180.9,-.232],[184.4,-.133],[186.8,-.154],[191.5,.072],[192.2,.074],[196.1,.034],[199.1,-.027],[203.1,.053],[211.3,-.082],[214.1,-.082],[219,-.116],[223,-.065],[227.2,-.113],[230,-.093],[234.2,-.126],[237,-.099],[240.5,-.133],[247.5,-.051],[250.6,-.085],[254.5,.07],[257.6,.099],[262.3,-.058],[267.3,-.007],[269,-.007],[272.3,-.14],[276,.048],[278.5,-.034],[281.4,.027],[284.3,-.154],[288,-.044],[290.7,-.102],[294.5,.051],[296.6,.01],[299.6,.055],[303.5,-.15],[307,-.099],[309.3,-.113],[312.3,-.129],[316.4,-.017],[319.2,-.061],[321.8,.007],[325.3,-.068]];

// ---- Trident Pier
const tridentObs = [[0,-.139],[2.6,.008],[4.2,-.122],[7,-.295],[9,-.274],[10.3,-.274],[12.9,-.409],[17.1,-.223],[19.4,-.29],[22.5,-.354],[24.8,-.333],[27.6,-.371],[33.5,-.244],[37.7,-.396],[40,-.299],[41.7,-.257],[43.6,-.392],[46.4,-.282],[48.7,-.375],[51,-.295],[54.1,-.421],[58.1,-.215],[59.7,-.223],[64,-.038],[65.1,-.036],[67.4,-.122],[69.8,-.135],[72.1,-.105],[76.8,-.27],[79.2,-.19],[80.4,-.198],[82.2,-.274],[85,-.105],[86.2,-.093],[88.5,-.198],[92,-.206],[94.4,-.24],[96.7,-.307],[100.7,-.139],[107.3,-.404],[110.8,-.228],[115.5,-.24],[117.8,-.244],[123.7,-.366],[128.3,-.261],[130.7,-.274],[133,-.249],[138.4,-.425],[141.6,-.321],[144,-.358],[146.4,-.24],[149.4,-.446],[151.7,-.332],[153.4,-.328],[157.1,-.244],[159.9,-.329],[163.5,-.185],[167,-.274],[168.2,-.308],[171.7,-.351],[176.3,-.404],[179.9,-.316],[181.5,-.375],[184.5,-.24],[190.4,-.147],[192.7,-.206],[196.2,-.131],[199.3,-.32],[203.3,-.236],[205.6,-.329],[209.1,-.396],[212.6,-.316],[215,-.265],[219.6,-.341],[223.2,-.261],[225.5,-.375],[230.2,-.392],[232.6,-.274],[237.2,-.122],[242,-.32],[247.8,-.147],[250,-.152],[252.5,-.248],[255.5,-.038],[259.5,-.253],[263,-.181],[267,-.097],[270,-.164],[271.9,-.189],[275.2,-.055],[278.2,-.164],[281.7,-.055],[286,-.223],[290.6,-.27],[298.1,-.004],[300.5,-.189],[306.3,-.257],[309.9,-.105],[312.2,-.131],[314.5,-.105],[316.8,-.076],[322.7,-.072],[326,-.038],[328,.118],[331,-.088],[333.7,-.139],[336,-.198],[340.3,-.164],[343.8,-.059],[347.3,-.164],[353,-.122],[356.7,-.446],[360.2,-.181],[363.7,-.274]];
const tridentR15b = [[0,-.139],[2.6,.038],[6.6,-.173],[10.1,-.135],[12.4,-.156],[14.8,-.131],[20.6,-.358],[22.9,-.206],[25.3,-.211],[28.3,-.076],[31.8,-.198],[34.7,-.101],[37.7,-.206],[40,-.194],[47.5,-.417],[51,-.291],[54.6,-.358],[63.5,-.425],[69.8,-.282],[75.6,-.388],[79.9,-.24],[82.2,-.316],[86.2,-.156],[88.5,-.278],[91.6,-.198],[94.4,-.223],[99,-.329],[101.4,-.278],[106.1,-.375],[114.8,-.135],[123.7,-.35],[128.3,-.303],[133,-.383],[136.5,-.316],[142.9,-.451],[146.4,-.358],[151,-.581],[154.1,-.551],[163.5,-.286],[166.5,-.4],[169.3,-.34],[172.8,-.392],[176.8,-.518],[179.9,-.4],[181.7,-.455],[185,-.307],[187.6,-.358],[191.6,-.131],[195,-.101],[199.3,-.198],[203.3,-.101],[211.5,-.274],[216.3,-.253],[219.6,-.316],[223.2,-.185],[226.7,-.282],[230.2,-.282],[233.7,-.324],[237.2,-.189],[240.8,-.307],[247.8,-.189],[250.9,-.24],[256,-.013],[259.5,-.088],[263,-.105],[267.7,-.122],[271.2,-.24],[275.2,-.105],[278.4,-.164],[281.7,-.021],[285.2,-.24],[288.8,-.105],[291.2,-.181],[294.6,-.046],[297,-.105],[299.3,-.042],[304,-.24],[308.6,-.219],[313.4,-.265],[316.8,-.147],[319.7,-.189],[322.7,-.164],[326.2,-.189],[328.6,-.105],[332,-.442],[336,-.312],[339.1,-.333],[342.6,-.206],[345,-.24],[348.5,-.122],[350.9,-.223],[354.3,-.307],[357.1,-.51],[360.9,-.295],[363.7,-.50]];
const tridentRun = [[0,-.173],[2.6,.173],[6.6,-.249],[9.6,-.063],[12.4,-.139],[15.4,-.051],[19.4,-.307],[22.9,-.177],[25.3,-.206],[28.3,-.034],[31.8,-.131],[34.7,-.055],[37.7,-.173],[40,-.101],[44,-.358],[47.5,-.409],[51.8,-.173],[54.6,-.35],[58.1,-.223],
    [327.4,-.004],[331.4,-.501],[335.2,-.341],[339.1,-.316],[343.1,-.105],[345.5,-.164],[348,-.08],[350.4,-.206],[353.9,-.173],[356.7,-.569],[360.2,-.316],[363.7,-.265]];
const tridentOnline = [[59.7,-.181],[62,-.341],[65.6,-.261],[68.6,-.274],[71.4,-.211],[76.3,-.451],[80.3,-.24],[82.2,-.35],[85.7,.03],[88.5,-.164],[91.6,-.093],[97.9,-.211],[100.7,-.073],[108.4,-.337],[113.1,.038],[117.8,-.097],[120.1,-.114],[124.4,-.232],[128.3,-.105],[131.9,-.278],[135.4,-.227],[138.4,-.295],[140.7,-.223],[143.6,-.329],[146.4,-.223],[150.6,-.446],[154.1,-.429],[156.4,-.249],[158.3,-.215],[161.6,-.257],[164,-.238],[165.8,-.257],[168.6,-.219],[172.1,-.324],[174,-.316],[176.8,-.438],[179.2,-.321],[181.5,-.375],[185,-.156],[190.9,.046],[193.4,-.114],[196.2,.004],[199.3,-.232],[202.6,-.055],[205.6,-.131],[211.5,-.232],[216.8,-.189],[219.6,-.261],[223.6,-.227],[228.3,-.278],[230.2,-.27],[233.3,-.329],[237.2,-.118],[241.4,-.307],[247.8,-.12],[250.9,-.189],[255.5,.055],[258.3,-.105],[262.6,-.122],[266.5,-.055],[271.9,-.282],[275.5,-.008],[278.8,-.215],[281.7,.021],[284.6,-.324],[288.1,-.097],[290.4,-.211],[293.4,-.025],[295.8,-.072],[298.1,.011],[302.3,-.232],[305.9,-.333],[309.9,-.223],[311.7,-.269],[314.5,-.063],[318.2,-.114],[322,-.181],[324.9,-.143],[326.2,-.181]];

// ---- Mayport
const mayportObs = [[0,-.145],[1.5,-.085],[3.4,-.232],[5.7,-.374],[8.5,-.281],[11.5,-.439],[15.5,-.232],[18.6,-.324],[22,-.466],[25.1,-.385],[27.9,-.428],[33,-.298],[36.5,-.434],[39.6,-.276],[42.6,-.374],[47,-.439],[50.6,-.336],[53.6,-.395],[57.1,-.183],[59.9,-.336],[62.2,-.232],[64.6,-.025],[67.6,-.178],[70.6,-.118],[74.6,-.368],[78.1,-.265],[80.9,-.33],[84.5,-.02],[87.5,-.276],[91,-.286],[95.6,-.33],[99.8,-.096],[103.4,-.34],[106.6,-.537],[110.8,-.156],[112,-.156],[115.5,-.249],[119,-.232],[122.5,-.385],[126.7,-.292],[130.7,-.238],[134.2,-.276],[137.7,-.401],[141.2,-.298],[145.4,-.243],[148.2,-.298],[152.4,-.254],[156.4,-.167],[159.9,-.32],[163.4,-.347],[166.5,-.33],[170.4,-.412],[173.2,-.341],[175.8,-.45],[178.6,-.27],[182.1,-.265],[184.4,-.167],[186.5,-.211],[188.4,-.058],[192.6,-.287],[195.6,-.156],[198.4,-.276],[201.9,-.123],[204.7,-.227],[208.3,-.347],[212.5,-.221],[216,-.183],[220.2,-.368],[223.5,-.341],[227.2,-.325],[230,-.308],[233.5,-.21],[236.5,.019],[240.5,-.33],[244,-.167],[248.7,-.069],[252.2,-.21],[255.2,.013],[258.5,-.21],[262.7,-.08],[266.7,.002],[269.7,-.156],[273.9,.008],[277.4,-.2],[280.9,.075],[284.2,-.254],[287.2,-.08],[290,-.205],[293.5,-.139],[297,.062],[300.6,-.379],[303.6,-.183],[306.6,-.308],[309.4,-.145],[311.7,-.161],[315.3,-.031],[318.8,-.058],[322.3,-.052],[324.6,.008],[327,.231],[330,-.21],[333.3,-.129],[336.3,-.183],[339.3,-.189],[342.8,.035],[346.3,-.112],[349.1,-.232],[352.6,-.069],[356.2,-.548],[359.7,-.129],[363.2,-.254]];
const mayportR15b = [[0,-.211],[1.5,-.025],[5.2,-.374],[9.2,-.167],[12.7,-.237],[15,-.216],[18.6,-.439],[22,-.259],[27.9,-.123],[31,-.276],[34.2,-.156],[37.2,-.254],[40,-.2],[47.3,-.488],[50.6,-.281],[54.8,-.412],[57.1,-.308],[61.8,-.456],[64.6,-.357],[67.6,-.276],[74.6,-.521],[78.6,-.368],[80.9,-.439],[85.1,-.09],[87.5,-.314],[90.5,-.281],[95.6,-.292],[99.8,-.189],[106.6,-.461],[113.2,-.096],[123,-.314],[127.7,-.227],[132.3,-.428],[136.5,-.33],[143.1,-.39],[145.9,-.298],[151,-.499],[154,-.494],[157.6,-.281],[163.4,-.352],[167.4,-.33],[171.5,-.385],[176.3,-.472],[180.4,-.346],[182.1,-.363],[184.4,-.21],[186.8,-.254],[189.8,-.041],[193,-.2],[196.1,-.118],[199.1,-.145],[203.1,-.031],[210,-.194],[217.1,-.183],[219.5,-.325],[223.5,-.248],[227.2,-.292],[230,-.254],[233,-.308],[236.5,-.063],[240.5,-.319],[246.3,-.129],[251,-.194],[255,-.025],[260.4,-.009],[265,-.09],[267.3,-.041],[270.8,-.232],[274.5,-.02],[278,-.254],[280.9,.029],[284.9,-.276],[288.4,-.09],[290.7,-.145],[293,-.025],[296.5,-.08],[298.2,0],[302.4,-.221],[306,-.243],[309.4,-.238],[311.7,-.313],[316,-.036],[319.3,-.123],[322.3,-.2],[325.3,-.211],[328,-.069],[331.6,-.548],[336.3,-.325],[339.3,-.412],[342,-.101],[344.4,-.232],[348,-.052],[351,-.341],[353.8,-.341],[356.2,-.559],[359.7,-.336],[363.2,-.472]];
const mayportRun = [[0,-.101],[1.5,.089],[5.2,-.417],[8.5,-.15],[11.5,-.276],[15,-.163],[19.3,-.472],[22,-.319],[24.4,-.319],[27.9,-.145],[31,-.276],[34.2,-.156],[37.2,-.265],[39.6,-.167],[43.5,-.243],[44.6,-.243],[47.3,-.494],[51.3,-.221],[54.8,-.428],[58.3,-.308],
    [327.7,.051],[331.2,-.706],[335.1,-.439],[339.3,-.45],[342,-.036],[344.4,-.167],[347.5,-.2],[351,-.341],[353.3,-.21],[356.2,-.739],[359.7,-.341],[363.2,-.472]];
const mayportOnline = [[59,-.254],[60,-.232],[61.3,-.494],[64.1,-.298],[66.9,-.434],[70,-.254],[74.9,-.597],[78.1,-.357],[80.9,-.521],[84.7,.084],[87.9,-.308],[90.9,-.21],[93.3,-.254],[96.3,-.243],[99.6,-.063],[106.6,-.51],[112.2,.035],[115.5,-.188],[119,-.199],[122.5,-.33],[127.9,-.112],[131.4,-.341],[134.9,-.292],[137.2,-.374],[140.5,-.287],[142.8,-.347],[145.9,-.292],[150.6,-.45],[152.9,-.439],[157.6,-.2],[160.6,-.314],[163.4,-.287],[165.7,-.298],[167.4,-.298],[171.1,-.385],[172.8,-.346],[176.3,-.483],[179.1,-.33],[180.9,-.368],[184.4,-.112],[186.8,-.188],[189.8,.068],[192.6,-.2],[195.4,-.025],[198.4,-.292],[201.9,-.069],[204.7,-.134],[206.6,-.139],[208.9,-.221],[211.8,-.2],[213.2,-.238],[216.5,-.156],[220.2,-.319],[223,-.292],[225.8,-.352],[228.8,-.314],[231.9,-.352],[236.5,-.074],[240.5,-.341],[246.4,-.107],[251,-.281],[254.5,-.02],[258,-.194],[260.8,-.101],[262.7,-.134],[265.7,-.052],[270.8,-.308],[274.9,-.036],[277.9,-.341],[280.9,.035],[284.2,-.434],[287.7,-.123],[289.6,-.211],[292.6,-.063],[294.3,-.167],[297.3,.019],[300.8,-.385],[303.6,-.319],[305.5,-.466],[309,-.287],[310.6,-.341],[316,-.063],[319.3,-.178],[321.6,-.264],[322.7,-.287],[325.3,-.156]];

// ---- Fernandina Beach
const fernandinaObs = [[0,-.03],[1.9,.03],[4.2,-.128],[6.6,-.396],[9,-.311],[12.4,-.512],[15.9,-.293],[19.4,-.415],[20.6,-.427],[23.4,-.482],[26.5,-.396],[28.8,-.415],[33.5,-.268],[37,-.47],[40.5,-.317],[43.6,-.396],[45.2,-.335],[48.2,-.457],[51.8,-.378],[54.6,-.439],[58.1,-.146],[60.4,-.287],[62.8,-.226],[65.1,.006],[67.4,-.213],[68.6,-.226],[71.4,-.14],[75.6,-.378],[78.7,-.25],[80.8,-.427],[85,.037],[87.4,-.232],[90.9,-.213],[94.4,-.311],[100.7,-.11],[106.6,-.591],[111.2,-.128],[114.2,-.226],[117.8,-.238],[123.7,-.415],[128.3,-.256],[131.4,-.348],[134.2,-.238],[138.4,-.402],[142.4,-.299],[144.7,-.348],[146.4,-.22],[149.4,-.348],[152.9,-.317],[157.1,-.207],[161.1,-.348],[164.6,-.354],[167,-.335],[171.2,-.457],[174,-.409],[179.2,-.299],[182.7,-.476],[184.5,-.165],[189.2,-.085],[192.7,-.213],[196.2,-.128],[199.3,-.317],[202.1,-.201],[205.6,-.299],[209.1,-.409],[213.3,-.25],[216.6,-.232],[220.4,-.415],[223.6,-.323],[226.7,-.378],[230.2,-.36],[232.6,-.299],[236,.024],[240.8,-.378],[244.3,-.14],[248.5,-.079],[251.8,-.165],[255.3,.018],[258.3,-.293],[261.8,-.177],[266.5,-.006],[270.5,-.213],[272.3,-.128],[275.2,0],[278.2,-.226],[281.7,.122],[285.2,-.299],[288.2,-.141],[290.6,-.238],[294,-.201],[297.6,.098],[300.9,-.445],[304,-.207],[306.3,-.293],[310.3,-.14],[312.2,-.152],[316.8,-.037],[319.2,-.14],[322.7,-.067],[325,-.043],[327.4,.293],[330.9,-.293],[333.7,-.152],[336.8,-.189],[339.8,-.201],[343,.067],[346.2,-.165],[349.6,-.262],[353,-.067],[356.7,-.646],[360.2,-.079],[363.7,-.299]];
const fernandinaR15b = [[0,-.055],[2.6,.055],[6.6,-.36],[9.6,-.165],[12.4,-.226],[15.2,-.183],[19.4,-.451],[22.9,-.25],[25.3,-.256],[28.3,-.085],[31.8,-.238],[34.7,-.128],[37.7,-.25],[40,-.201],[47.5,-.488],[51,-.262],[54.6,-.396],[58.1,-.299],[61.6,-.427],[65.1,-.348],[67.4,-.354],[69.8,-.36],[75,-.518],[79.2,-.299],[81.5,-.457],[85,-.055],[87.8,-.287],[90.9,-.213],[94.4,-.305],[100.7,-.22],[106.6,-.47],[113.1,-.073],[122.5,-.396],[127.1,-.226],[131.9,-.409],[136.5,-.348],[143.1,-.433],[147.1,-.299],[151.8,-.555],[154.1,-.543],[158,-.299],[161.6,-.372],[164,-.336],[167,-.323],[171.7,-.396],[176.8,-.512],[180.4,-.348],[182.2,-.421],[185,-.14],[187.6,-.226],[190.4,-.043],[193.2,-.238],[196.2,-.018],[199.3,-.201],[203.3,-.091],[210.3,-.189],[212,-.226],[217.3,-.275],[219.6,-.329],[223.6,-.22],[227.4,-.281],[230.2,-.25],[233.3,-.323],[236.8,-.079],[240.8,-.348],[246.6,-.104],[251.3,-.226],[255.3,.03],[261.1,.018],[265.3,-.079],[267.7,-.018],[271.2,-.226],[275.2,-.006],[278.2,-.25],[281.7,.079],[285.2,-.275],[288.1,-.079],[291.2,-.177],[293.4,-.067],[296.3,-.091],[298.6,.043],[302.8,-.226],[306.3,-.25],[309.9,-.213],[312.2,-.287],[316.4,-.055],[319.7,-.152],[322.7,-.189],[325.5,-.189],[327.4,.018],[331.4,-.579],[336,-.305],[339.1,-.409],[342.6,-.067],[345,-.226],[348,-.055],[350.9,-.262],[353.2,-.189],[356.2,-.567],[359.5,-.287],[362.8,-.476]];
const fernandinaRun = [[0,-.03],[2.3,.24],[6.6,-.299],[9.4,-.098],[12.4,-.262],[15.5,-.122],[19.4,-.494],[22.5,-.311],[25.3,-.256],[28.3,-.085],[31.8,-.244],[34.7,-.11],[37.7,-.262],[40,-.152],[44.5,-.22],[48,-.518],[51.5,-.171],[54.6,-.432],[58.1,-.25],
    [327.4,.165],[331.4,-.738],[335.2,-.409],[339.3,-.415],[342.6,-.104],[345.5,-.152],[348,-.067],[350.9,-.384],[353.2,-.152],[356.2,-.787],[359.5,-.396],[363.2,-.47]];
const fernandinaOnline = [[59.7,-.274],[60.4,-.274],[61.6,-.451],[64.9,-.238],[67.9,-.439],[70.9,-.238],[75.6,-.604],[79.2,-.323],[81.5,-.53],[85.5,.201],[88.5,-.262],[91.6,-.134],[94.4,-.232],[96.7,-.232],[100.7,-.037],[107.3,-.549],[112.6,.113],[115.5,-.104],[119,-.122],[124.1,-.323],[128.8,-.098],[132.3,-.36],[134.9,-.232],[137.7,-.354],[140.7,-.268],[143.5,-.366],[146.8,-.207],[151.8,-.494],[154.1,-.47],[158,-.189],[161.1,-.299],[164.2,-.244],[167.4,-.262],[171.7,-.396],[174,-.354],[176.8,-.5],[179.9,-.317],[182.2,-.396],[185,-.091],[187.6,-.238],[190.4,.128],[193.2,-.189],[196.2,.07],[199.3,-.311],[202.1,-.061],[204.9,-.146],[207.2,-.152],[209.6,-.25],[211.5,-.232],[213.3,-.275],[216.6,-.177],[220.4,-.323],[223.6,-.238],[226.7,-.323],[229,-.317],[232.6,-.384],[236.8,-.018],[240.8,-.348],[246.6,-.067],[251.3,-.226],[254.8,.085],[258.3,-.183],[261.1,-.098],[263,-.128],[266.5,0],[271.2,-.311],[275.2,.024],[278.2,-.323],[281.3,.177],[284.6,-.433],[288.1,-.091],[290,-.213],[292.8,-.03],[294.6,-.152],[297.6,.104],[301.1,-.39],[304,-.299],[305.8,-.476],[309.4,-.213],[311,-.299],[315.7,-.006],[319.7,-.152],[321.5,-.25],[322.7,-.287],[325.7,-.073]];

const obsSeries = [fortMyersObs, naplesObs, keyWestObs, vacaKeyObs, virginiaKeyObs, southPortObs, lakeWorthObs, tridentObs, mayportObs, fernandinaObs];
const r15bSeries = [fortMyersR15b, naplesR15b, keyWestR15b, vacaKeyR15b, virginiaKeyR15b, southPortR15b, lakeWorthR15b, tridentR15b, mayportR15b, fernandinaR15b];
const runSeries = [fortMyersRun, naplesRun, keyWestRun, vacaKeyRun, virginiaKeyRun, southPortRun, lakeWorthRun, tridentRun, mayportRun, fernandinaRun];
const onlineSeries = [fortMyersOnline, naplesOnline, keyWestOnline, vacaKeyOnline, virginiaKeyOnline, southPortOnline, lakeWorthOnline, tridentOnline, mayportOnline, fernandinaOnline];

const stations = stationTitles.map((title, i) => ({
    title: title,
    lines: [
        obsSeries[i],
        r15bSeries[i],
        runSeries[i].concat(onlineSeries[i]).sort((a, b) => a[0] - b[0]),
        onlineSeries[i]
    ],
    ylim: yLimits[i],
    step: yTickSteps[i]
}));

// matplotlib-ish styles: r-. lw2, g-- lw1, m- lw1, b- lw1
const lineStyles = [
    { color: '#ff0000', width: 2.6, dash: '17.8,4.4,2.8,4.4' },
    { color: '#008000', width: 1.2, dash: '5.1,2.2' },
    { color: '#bf00bf', width: 1.3, dash: null },
    { color: '#0000ff', width: 1.3, dash: null }
];

const colLeft = [79, 2631];
const colWidth = [2496, 2502];
const rowTop = [37, 424, 811, 1198, 1585];
const rowHeight = 325;
const fontSize = 13.9;

const svg = d3.select('#chart');
const fmt = d3.format('.1f');

stations.forEach((st, i) => {
    const col = i % 2;
    const row = Math.floor(i / 2);
    const w = colWidth[col];
    const h = rowHeight;
    const g = svg.append('g')
        .attr('transform', `translate(${colLeft[col]},${rowTop[row]})`);

    const x = d3.scaleLinear().domain([0, 364]).range([0, w]);
    const y = d3.scaleLinear().domain(st.ylim).range([h, 0]);

    g.append('clipPath').attr('id', 'clip' + i)
        .append('rect').attr('width', w).attr('height', h);

    const line = d3.line()
        .x((d) => x(d[0]))
        .y((d) => y(d[1]))
        .curve(d3.curveMonotoneX);

    const plot = g.append('g').attr('clip-path', `url(#clip${i})`);
    st.lines.forEach((data, k) => {
        const s = lineStyles[k];
        plot.append('path')
            .attr('d', line(data))
            .attr('fill', 'none')
            .attr('stroke', s.color)
            .attr('stroke-width', s.width)
            .attr('stroke-dasharray', s.dash)
            .attr('stroke-linejoin', 'round');
    });

    // ticks
    const lo = st.ylim[0], hi = st.ylim[1];
    const yVals = d3.range(Math.ceil(lo / st.step - 1e-9), Math.floor(hi / st.step + 1e-9) + 1)
        .map((k) => +(k * st.step).toFixed(2));

    const yAxis = g.append('g')
        .call(d3.axisLeft(y).tickValues(yVals).tickFormat(fmt).tickSize(4.9).tickPadding(4.9));
    const xAxis = g.append('g')
        .attr('transform', `translate(0,${h})`)
        .call(d3.axisBottom(x).tickValues(monthStarts)
            .tickFormat((d, j) => monthLabels[j]).tickSize(4.9).tickPadding(4.9));
    [yAxis, xAxis].forEach((a) => {
        a.select('.domain').remove();
        a.selectAll('line').attr('stroke', '#000').attr('stroke-width', 1.1);
        a.selectAll('text')
            .style('font-family', '"DejaVu Sans", sans-serif')
            .style('font-size', fontSize + 'px')
            .attr('fill', '#000');
    });

    // frame
    g.append('rect')
        .attr('width', w).attr('height', h)
        .attr('fill', 'none').attr('stroke', '#000').attr('stroke-width', 1.1);

    // title
    g.append('text')
        .attr('x', w / 2).attr('y', -8.3)
        .attr('text-anchor', 'middle')
        .style('font-size', '16.7px')
        .text(st.title);

    if (col === 0) {
        g.append('text')
            .attr('transform', `translate(${20 - colLeft[col]},${h / 2}) rotate(-90)`)
            .attr('text-anchor', 'middle')
            .attr('dominant-baseline', 'central')
            .style('font-size', fontSize + 'px')
            .text('Elevation (m)');
    }

    if (i === 0) {
        const lg = g.append('g');
        const pad = 5.6, handle = 27.8, gap = 11.1, rowH = 20.85;
        const labels = lg.append('g');
        seriesNames.forEach((name, k) => {
            labels.append('text')
                .attr('x', pad + handle + gap)
                .attr('y', pad + rowH * k + 6.7)
                .attr('dominant-baseline', 'central')
                .style('font-size', fontSize + 'px')
                .text(name);
        });
        let textW = 0;
        labels.selectAll('text').each(function () {
            textW = Math.max(textW, this.getComputedTextLength());
        });
        const boxW = pad + handle + gap + textW + pad;
        const boxH = pad * 2 + rowH * (seriesNames.length - 1) + 13.9;
        lg.attr('transform', `translate(${w - 7 - boxW},7)`);
        lg.insert('rect', ':first-child')
            .attr('width', boxW).attr('height', boxH)
            .attr('rx', 2.8).attr('ry', 2.8)
            .attr('fill', '#fff').attr('fill-opacity', 0.8)
            .attr('stroke', '#cccccc').attr('stroke-width', 1.1);
        seriesNames.forEach((name, k) => {
            const s = lineStyles[k];
            const yy = pad + rowH * k + 6.7;
            lg.append('line')
                .attr('x1', pad).attr('x2', pad + handle)
                .attr('y1', yy).attr('y2', yy)
                .attr('stroke', s.color)
                .attr('stroke-width', s.width)
                .attr('stroke-dasharray', s.dash);
        });
    }
});
</script>
</body>
</html>
